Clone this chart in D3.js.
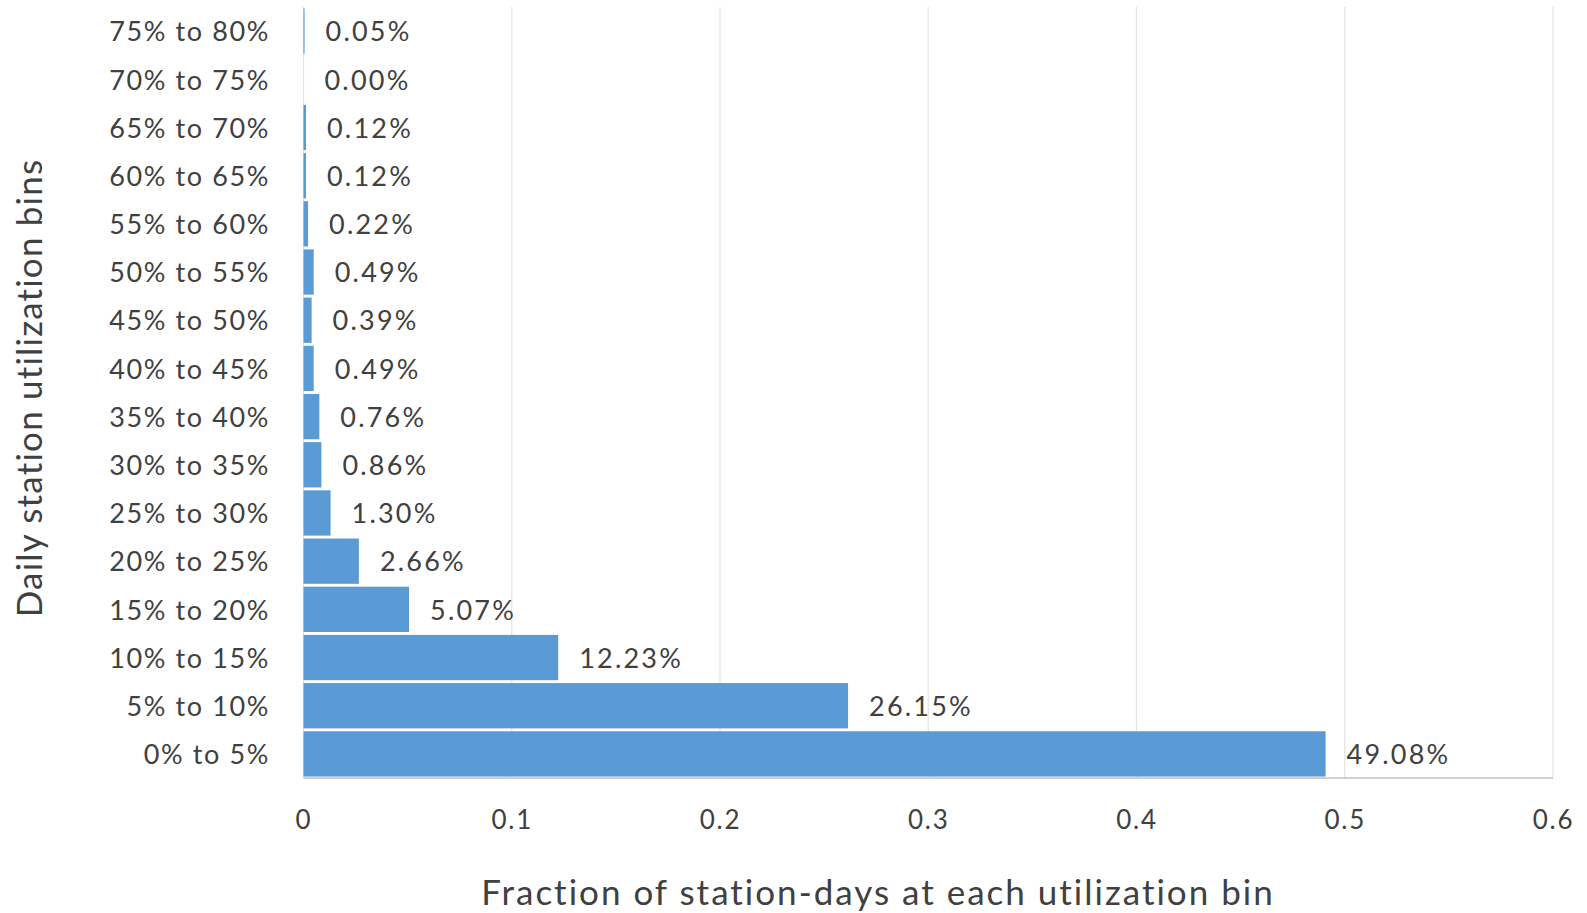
<!DOCTYPE html>
<html>
<head>
<meta charset="utf-8">
<script src="https://cdn.jsdelivr.net/npm/d3@7/dist/d3.min.js"></script>
<style>
  html, body { margin: 0; padding: 0; background: #ffffff; }
  svg { display: block; }
  text { font-family: "Lato", "Open Sans", sans-serif; fill: #404040; }
</style>
</head>
<body>
<svg id="chart" width="1587" height="913"></svg>
<script>
// Utilization bins, listed bottom to top
const categories = [
  "0% to 5%", "5% to 10%", "10% to 15%", "15% to 20%", "20% to 25%",
  "25% to 30%", "30% to 35%", "35% to 40%", "40% to 45%", "45% to 50%",
  "50% to 55%", "55% to 60%", "60% to 65%", "65% to 70%", "70% to 75%",
  "75% to 80%"
];
// Fraction of station-days in each bin
const fractions = [
  0.4908, 0.2615, 0.1223, 0.0507, 0.0266,
  0.0130, 0.0086, 0.0076, 0.0049, 0.0039,
  0.0049, 0.0022, 0.0012, 0.0012, 0.0000,
  0.0005
];
const xTicks = [0, 0.1, 0.2, 0.3, 0.4, 0.5, 0.6];
const xTitle = "Fraction of station-days at each utilization bin";
const yTitle = "Daily station utilization bins";

const data = categories.map((c, i) => ({ cat: c, v: fractions[i] }));

const svg = d3.select("#chart");
const plot = { left: 303.5, right: 1553, top: 7, bottom: 778 };

const x = d3.scaleLinear().domain([0, 0.6]).range([plot.left, plot.right]);
const y = d3.scaleBand()
  .domain(categories.slice().reverse())
  .range([plot.top, plot.bottom])
  .paddingInner(0.06)
  .paddingOuter(0.03);

// vertical gridlines
svg.append("g")
  .selectAll("line")
  .data(xTicks)
  .join("line")
  .attr("x1", d => x(d)).attr("x2", d => x(d))
  .attr("y1", plot.top).attr("y2", plot.bottom)
  .attr("stroke", "#e3e3e3")
  .attr("stroke-width", 1.2);

// bars
svg.append("g")
  .selectAll("rect")
  .data(data)
  .join("rect")
  .attr("x", x(0))
  .attr("y", d => y(d.cat))
  .attr("width", d => x(d.v) - x(0))
  .attr("height", y.bandwidth())
  .attr("fill", "#5b9bd5");

// value labels
svg.append("g")
  .selectAll("text")
  .data(data)
  .join("text")
  .attr("x", d => x(d.v) + 21)
  .attr("y", d => y(d.cat) + y.bandwidth() / 2)
  .attr("dy", "0.38em")
  .attr("font-size", 27)
  .attr("letter-spacing", 2.2)
  .text(d => (d.v * 100).toFixed(2) + "%");

// bottom axis line
svg.append("line")
  .attr("x1", plot.left).attr("x2", plot.right)
  .attr("y1", plot.bottom).attr("y2", plot.bottom)
  .attr("stroke", "#bfbfbf")
  .attr("stroke-width", 1.5);

// x axis tick labels
const xAxis = d3.axisBottom(x).tickValues(xTicks).tickSize(0).tickPadding(0)
  .tickFormat(d => d === 0 ? "0" : d3.format(".1f")(d));
const gx = svg.append("g")
  .attr("transform", `translate(0,${plot.bottom})`)
  .call(xAxis);
gx.select(".domain").remove();
gx.selectAll("text")
  .attr("y", 42)
  .attr("dy", "0.36em")
  .attr("font-size", 26)
  .attr("letter-spacing", 1.8)
  .style("font-family", "Lato, 'Open Sans', sans-serif")
  .attr("fill", "#404040");

// y axis category labels
const yAxis = d3.axisLeft(y).tickSize(0).tickPadding(0);
const gy = svg.append("g")
  .attr("transform", `translate(270,0)`)
  .call(yAxis);
gy.select(".domain").remove();
gy.selectAll("text")
  .attr("font-size", 27)
  .attr("letter-spacing", 1.6)
  .attr("dy", "0.38em")
  .style("font-family", "Lato, 'Open Sans', sans-serif")
  .attr("fill", "#404040");

// axis titles
svg.append("text")
  .attr("x", 878)
  .attr("y", 905)
  .attr("text-anchor", "middle")
  .attr("font-size", 35)
  .attr("letter-spacing", 2.0)
  .text(xTitle);

svg.append("text")
  .attr("transform", "translate(42,388) rotate(-90)")
  .attr("text-anchor", "middle")
  .attr("font-size", 35)
  .attr("letter-spacing", 1.2)
  .text(yTitle);
</script>
</body>
</html>
